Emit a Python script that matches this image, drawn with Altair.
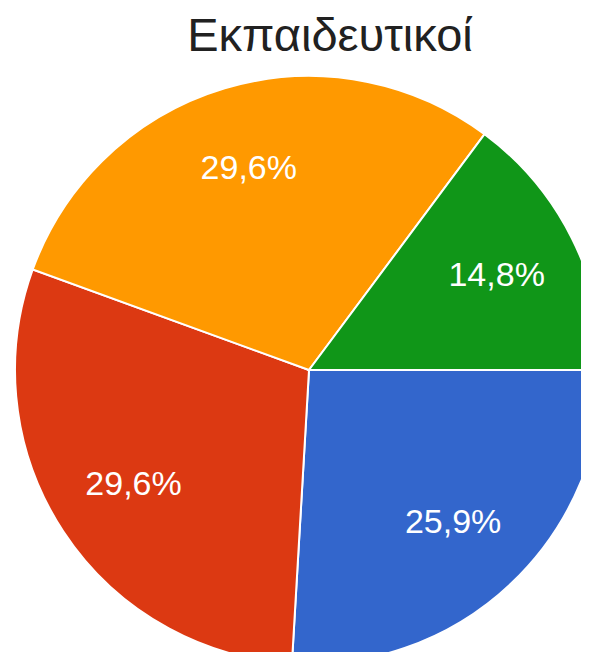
import math
import altair as alt
import pandas as pd

title_text = "Εκπαιδευτικοί"
categories = ["Α", "Β", "Γ", "Δ"]
values = [7, 8, 8, 4]
labels = ["25,9%", "29,6%", "29,6%", "14,8%"]
colors = ["#3366cc", "#dc3912", "#ff9900", "#109618"]

df = pd.DataFrame({
    "cat": categories,
    "value": values,
    "label": labels,
    "order": list(range(len(categories))),
})

CX, CY, R = 301, 362, 294
start = math.pi / 2

theta = alt.Theta("value:Q", stack=True,
                  scale=alt.Scale(range=[start, start + 2 * math.pi]))
color = alt.Color("cat:N", scale=alt.Scale(domain=categories, range=colors), legend=None)

base = alt.Chart(df)

arcs = base.mark_arc(outerRadius=R, stroke="white", strokeWidth=2).encode(
    theta=theta,
    color=color,
    order=alt.Order("order:Q"),
    x=alt.value(CX),
    y=alt.value(CY),
)

text = base.mark_text(radius=210, fontSize=34, font="Liberation Sans",
                      color="white", align="center", baseline="middle").encode(
    theta=theta,
    text="label:N",
    order=alt.Order("order:Q"),
    x=alt.value(CX),
    y=alt.value(CY),
)

title = alt.Chart(pd.DataFrame({"t": [title_text]})).mark_text(
    fontSize=47, font="Liberation Sans", color="#212121",
    align="center", baseline="alphabetic"
).encode(text="t:N", x=alt.value(322), y=alt.value(43))

chart = alt.layer(arcs, text, title).properties(
    width=573, height=644,
    autosize=alt.AutoSizeParams(type="none"),
    padding=0,
).configure_view(stroke=None)

chart.save("out.html", embed_options={"renderer": "svg", "actions": False})
